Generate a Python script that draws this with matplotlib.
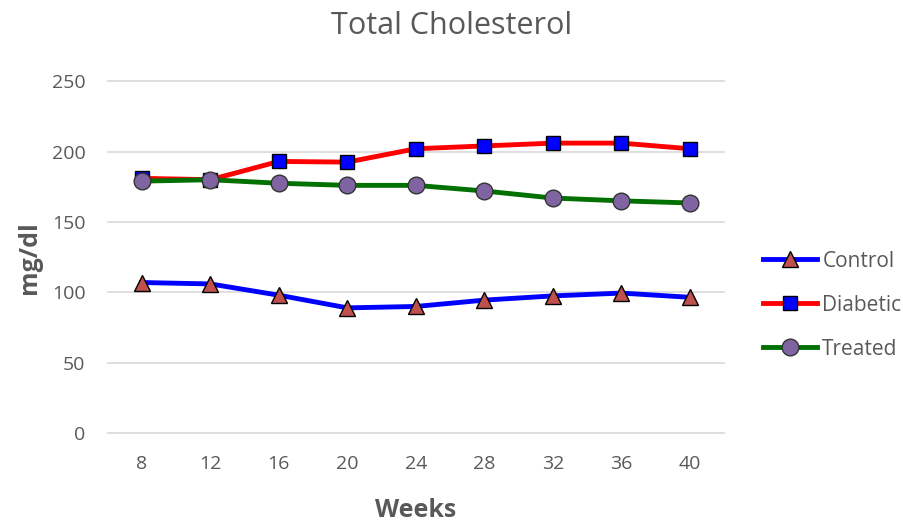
import matplotlib.pyplot as plt

weeks = ["8", "12", "16", "20", "24", "28", "32", "36", "40"]
control = [107, 106, 98, 89, 90, 94.5, 97.5, 99.5, 96.5]
diabetic = [181, 180, 193, 192.5, 202, 204, 206, 206, 202]
treated = [179, 180, 177.5, 176, 176, 172, 167, 165, 163.5]

plt.rcParams['font.family'] = ['Open Sans', 'DejaVu Sans']
gray = '#595959'

fig = plt.figure(figsize=(9.04, 5.27), dpi=100)
ax = fig.add_axes([0.119, 0.178, 0.682, 0.668])

ax.plot(weeks, control, color='#0000ff', lw=3.5, marker='^', ms=12,
        mfc='#c0504d', mec='black', mew=1, label='Control')
ax.plot(weeks, diabetic, color='#ff0000', lw=3.5, marker='s', ms=9.5,
        mfc='#0000ff', mec='black', mew=1, label='Diabetic')
ax.plot(weeks, treated, color='#007000', lw=3.5, marker='o', ms=12,
        mfc='#8064a2', mec='#333333', mew=1, label='Treated')

ax.set_xlim(-0.5, len(weeks) - 0.5)
ax.set_ylim(0, 250)
ax.set_yticks(range(0, 251, 50))
ax.grid(axis='y', color='#d9d9d9', lw=1.2)
for gl in ax.get_ygridlines():
    gl.set_clip_on(False)
ax.set_axisbelow(True)
for s in ax.spines.values():
    s.set_visible(False)
ax.tick_params(length=0, colors=gray, labelsize=14)
ax.tick_params(axis='x', pad=16)
ax.tick_params(axis='y', pad=16)

# title is centred on the whole figure, not the plot area
fig.suptitle('Total Cholesterol', color=gray, fontsize=22, x=0.5, y=0.951, va='center')
ax.set_xlabel('Weeks', color=gray, fontsize=18, fontweight='bold', labelpad=18)
ax.set_ylabel('mg/dl', color=gray, fontsize=18, fontweight='bold', labelpad=7)

fig.legend(loc='center left', bbox_to_anchor=(0.844, 0.421), frameon=False,
           borderpad=0, borderaxespad=0,
           handlelength=2.6, labelspacing=1.1, handletextpad=0.25,
           fontsize=15, labelcolor=gray)

fig.savefig('out.png', dpi=100)
